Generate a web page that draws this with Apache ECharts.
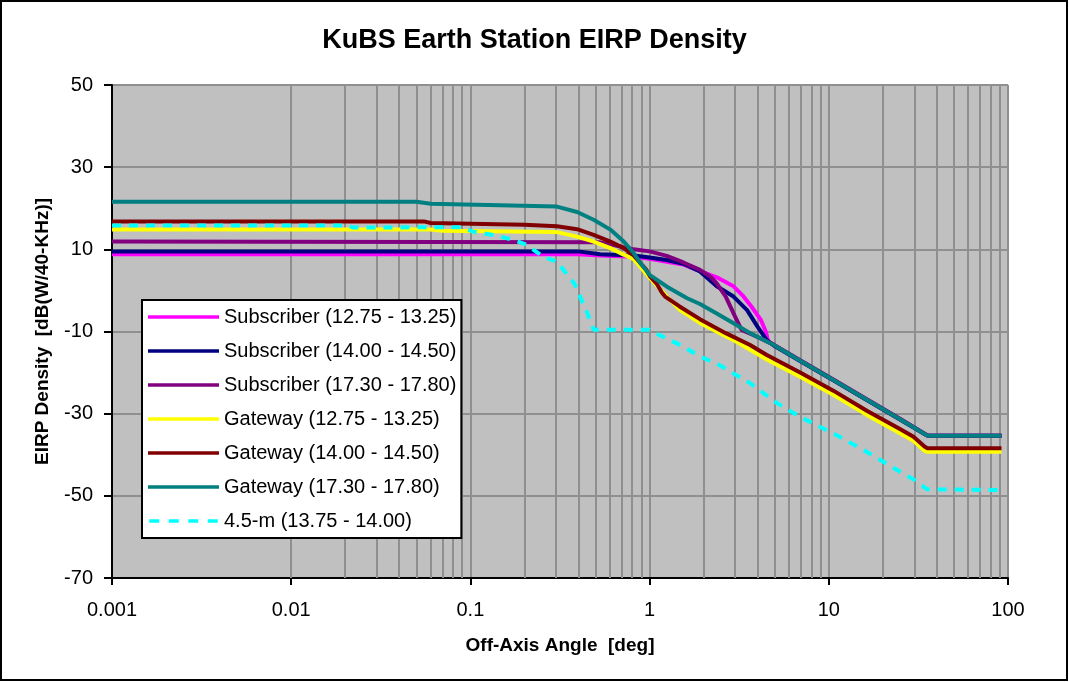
<!DOCTYPE html>
<html>
<head>
<meta charset="utf-8">
<script src="https://cdn.jsdelivr.net/npm/echarts@6/dist/echarts.min.js"></script>
<style>
html,body{margin:0;padding:0;background:#fff;}
#chart{width:1069px;height:682px;}
</style>
</head>
<body>
<div id="chart"></div>
<script>
// ---------- data ----------
const TITLE = 'KuBS Earth Station EIRP Density';
const X_NAME = 'Off-Axis Angle  [deg]';
const Y_NAME = 'EIRP Density  [dB(W/40-KHz)]';
const X_TICK_LABELS = ['0.001', '0.01', '0.1', '1', '10', '100'];
const Y_TICKS = [-70, -50, -30, -10, 10, 30, 50];
const MINOR_MULTIPLIERS = [2, 3, 4, 5, 6, 7, 8, 9];
const DECADES = [0.001, 0.01, 0.1, 1, 10];

const NAMES = [
  'Subscriber (12.75 - 13.25)',
  'Subscriber (14.00 - 14.50)',
  'Subscriber (17.30 - 17.80)',
  'Gateway (12.75 - 13.25)',
  'Gateway (14.00 - 14.50)',
  'Gateway (17.30 - 17.80)',
  '4.5-m (13.75 - 14.00)'
];

const SUB_1275 = [[0.001,8.8],[0.4,8.8],[0.53,8.5],[0.815,8.2],[1.0,7.7],[1.247,7.0],[1.545,6.3],[1.91,4.7],[2.37,3.2],[2.94,1.0],[3.3,-1.2],[3.68,-3.8],[4.17,-7.1],[4.45,-10.0],[4.6,-12.5],[4.93,-13.3],[6.92,-17.1],[10.6,-21.8],[16.3,-26.6],[25.1,-31.4],[35,-35.2],[36,-35.4],[92,-35.4]];
const SUB_1400 = [[0.001,9.5],[0.4,9.5],[0.53,8.8],[0.815,8.5],[1.0,8.0],[1.247,7.4],[1.545,6.5],[1.91,4.6],[2.37,1.0],[2.94,-1.5],[3.5,-4.8],[4.0,-8.8],[4.51,-12.1],[4.93,-13.4],[6.92,-17.2],[10.6,-21.9],[16.3,-26.7],[25.1,-31.5],[35,-35.2],[36,-35.4],[92,-35.4]];
const SUB_1730 = [[0.001,11.9],[0.53,11.7],[0.815,10.0],[1.0,9.5],[1.247,8.4],[1.545,6.8],[1.91,5.0],[2.18,3.4],[2.37,1.7],[2.66,-1.5],[3.0,-6.4],[3.26,-9.6],[3.81,-10.9],[4.93,-13.2],[6.92,-17.0],[10.6,-21.7],[16.3,-26.5],[25.1,-31.3],[35,-35.1],[36,-35.4],[92,-35.4]];
const GW_1275 = [[0.001,14.8],[0.06,14.8],[0.07,14.5],[0.304,14.2],[0.394,13.1],[0.487,11.9],[0.604,10.3],[0.717,8.7],[0.815,7.6],[1.006,3.0],[1.247,-1.5],[1.47,-4.7],[1.91,-7.9],[2.94,-12.1],[4.51,-16.8],[6.92,-21.0],[10.6,-25.4],[16.3,-30.3],[25.1,-34.8],[29.7,-36.6],[34.2,-39.0],[35.5,-39.3],[92,-39.3]];
const GW_1400 = [[0.001,16.8],[0.055,16.8],[0.06,16.4],[0.2,16.0],[0.304,15.6],[0.394,14.9],[0.487,13.5],[0.604,11.9],[0.717,10.3],[0.815,8.5],[0.96,5.0],[1.006,3.4],[1.1,1.5],[1.17,-0.5],[1.22,-1.5],[1.47,-3.9],[1.91,-7.0],[2.66,-10.4],[3.64,-13.3],[4.51,-15.7],[6.92,-20.0],[10.6,-24.4],[16.3,-29.3],[25.1,-33.8],[29.7,-35.6],[34.2,-38.0],[35.5,-38.4],[92,-38.4]];
const GW_1730 = [[0.001,21.6],[0.05,21.6],[0.06,21.1],[0.304,20.4],[0.394,19.1],[0.487,17.2],[0.604,14.8],[0.717,11.9],[0.815,9.1],[0.89,6.6],[1.0,3.8],[1.25,0.9],[1.62,-1.9],[1.91,-3.3],[2.37,-5.6],[2.94,-8.0],[3.64,-10.4],[4.93,-13.3],[6.92,-17.1],[10.6,-21.8],[16.3,-26.6],[25.1,-31.4],[35.0,-35.2],[36,-35.4],[92,-35.4]];
const M45_1375 = [[0.001,15.8],[0.021,15.8],[0.022,15.3],[0.088,15.4],[0.104,14.3],[0.134,13.5],[0.174,12.3],[0.206,11.1],[0.255,8.2],[0.304,7.0],[0.38,1.7],[0.45,-5.6],[0.487,-9.6],[1.0,-9.6],[1.14,-10.9],[1.545,-13.7],[1.91,-16.1],[2.37,-17.8],[2.94,-20.2],[3.64,-22.6],[5.17,-27.5],[6.92,-30.8],[10.6,-34.8],[16.3,-39.3],[23.0,-43.2],[29.7,-46.0],[35.4,-48.4],[36,-48.6],[92,-48.6]];

const SERIES_DATA = [SUB_1275, SUB_1400, SUB_1730, GW_1275, GW_1400, GW_1730, M45_1375];

// ---------- styles ----------
const COLORS = ['#FF00FF', '#000080', '#800080', '#FFFF00', '#800000', '#008080', '#00FFFF'];
const FONT = '"Liberation Sans", Arial, sans-serif';
const GRID_COLOR = '#8f8f8f';
const DASH_ICON = 'path://M0 0H10V3.5H0Z M19.5 0H29.5V3.5H19.5Z M39 0H49V3.5H39Z M58.5 0H68.5V3.5H58.5Z';

const minorLines = [];
DECADES.forEach(d => MINOR_MULTIPLIERS.forEach(m => minorLines.push({ xAxis: +(d * m).toPrecision(6) })));

const series = SERIES_DATA.map((data, i) => ({
  name: NAMES[i],
  type: 'line',
  data: data,
  symbol: 'none',
  showSymbol: false,
  smooth: false,
  z: 3,
  lineStyle: { color: COLORS[i], width: 4, type: i === 6 ? [9, 8] : 'solid', cap: 'butt' },
  itemStyle: { color: COLORS[i] },
  emphasis: { disabled: true }
}));

// minor log gridlines drawn through the x axis scale
series.unshift({
  name: '__grid__',
  type: 'line',
  data: [],
  z: 1,
  silent: true,
  markLine: {
    z: 1,
    silent: true,
    symbol: ['none', 'none'],
    label: { show: false },
    lineStyle: { color: GRID_COLOR, width: 2, type: 'solid' },
    emphasis: { disabled: true },
    data: minorLines
  }
});

const chart = echarts.init(document.getElementById('chart'), null, { renderer: 'canvas' });
chart.setOption({
  animation: false,
  backgroundColor: '#ffffff',
  textStyle: { fontFamily: FONT },
  title: {
    text: TITLE,
    left: 'center',
    top: 22,
    textStyle: { fontSize: 27, fontWeight: 'bold', color: '#000', fontFamily: FONT }
  },
  graphic: [{
    type: 'rect',
    shape: { x: 1, y: 1, width: 1066, height: 679 },
    style: { fill: 'none', stroke: '#000', lineWidth: 2 },
    silent: true,
    z: 100
  }],
  grid: {
    left: 112, right: 61, top: 85, bottom: 104,
    show: true, backgroundColor: '#C0C0C0', borderWidth: 0
  },
  legend: {
    orient: 'vertical',
    left: 142,
    top: 300,
    data: NAMES.map((n, i) => ({ name: n, icon: i === 6 ? DASH_ICON : 'rect' })),
    itemWidth: 71,
    itemHeight: 3.5,
    itemGap: 14,
    padding: [7, 5, 7, 6],
    backgroundColor: '#ffffff',
    borderColor: '#000',
    borderWidth: 2,
    selectedMode: false,
    textStyle: { fontSize: 20, lineHeight: 20, color: '#000', fontFamily: FONT }
  },
  xAxis: {
    type: 'log',
    logBase: 10,
    min: 0.001,
    max: 100,
    name: X_NAME,
    nameLocation: 'middle',
    nameGap: 58,
    nameTextStyle: { fontSize: 19, fontWeight: 'bold', color: '#000', fontFamily: FONT },
    axisLine: { show: true, onZero: false, lineStyle: { color: '#000', width: 2 } },
    axisTick: { show: true, inside: false, length: 7, lineStyle: { color: '#000', width: 2 } },
    axisLabel: {
      margin: 22, fontSize: 20, color: '#000', fontFamily: FONT,
      formatter: v => X_TICK_LABELS[Math.round(Math.log10(v)) + 3]
    },
    splitLine: { show: true, lineStyle: { color: GRID_COLOR, width: 2 } },
    minorTick: { show: false },
    minorSplitLine: { show: false }
  },
  yAxis: {
    type: 'value',
    min: Y_TICKS[0],
    max: Y_TICKS[Y_TICKS.length - 1],
    interval: 20,
    name: Y_NAME,
    nameLocation: 'middle',
    nameGap: 60,
    nameTextStyle: { fontSize: 19, fontWeight: 'bold', color: '#000', fontFamily: FONT },
    axisLine: { show: true, onZero: false, lineStyle: { color: '#000', width: 2 } },
    axisTick: { show: true, inside: false, length: 8, lineStyle: { color: '#000', width: 2 } },
    axisLabel: { margin: 19, fontSize: 20, color: '#000', fontFamily: FONT },
    splitLine: { show: true, lineStyle: { color: GRID_COLOR, width: 2 } }
  },
  series: series
});
</script>
</body>
</html>
